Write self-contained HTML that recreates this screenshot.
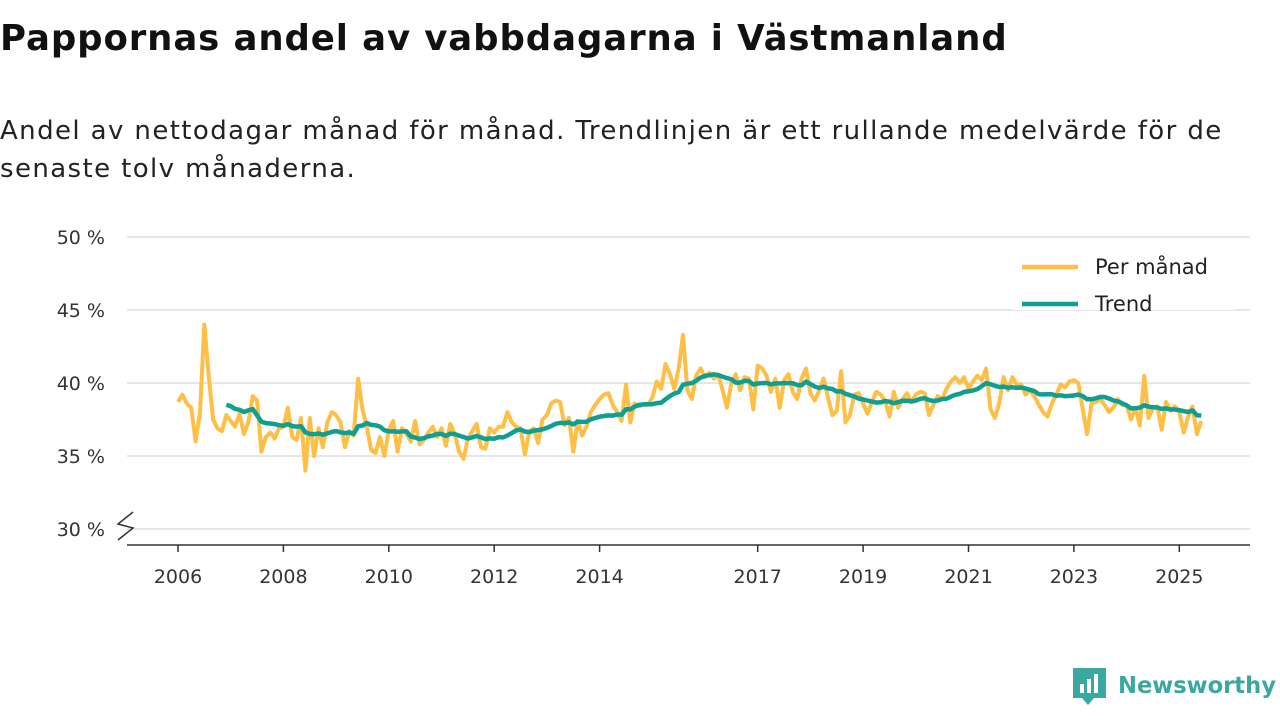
<!DOCTYPE html>
<html><head><meta charset="utf-8"><style>
body{margin:0;width:1280px;height:720px;background:#fff;font-family:"DejaVu Sans",sans-serif;overflow:hidden;position:relative}
h1{position:absolute;left:0;top:18px;margin:0;font-size:35.5px;font-weight:bold;color:#111;letter-spacing:0.9px;white-space:nowrap}
.sub{position:absolute;left:0;top:112px;font-size:26px;line-height:38px;color:#222;letter-spacing:1.4px;white-space:nowrap}
</style></head><body>
<h1>Pappornas andel av vabbdagarna i Västmanland</h1>
<div class="sub">Andel av nettodagar månad för månad. Trendlinjen är ett rullande medelvärde för de<br>senaste tolv månaderna.</div>
<svg id="c" width="1280" height="720" style="position:absolute;left:0;top:0"></svg>
<script>
const yTicks=[30,35,40,45,50];
const xTickYears=[2006,2008,2010,2012,2014,2017,2019,2021,2023,2025];
const monthly=[
38.7,39.2,38.6,38.3,36.0,38.0,44.0,40.5,37.5,36.9,36.7,37.8,
37.4,37.0,37.9,36.5,37.3,39.1,38.8,35.3,36.3,36.6,36.2,36.9,
37.0,38.3,36.3,36.1,37.6,34.0,37.6,35.0,36.9,35.6,37.3,38.0,
37.8,37.3,35.6,36.7,36.4,40.3,38.2,37.0,35.4,35.2,36.3,35.0,
36.8,37.4,35.3,36.9,36.5,36.0,37.4,35.8,36.1,36.6,37.0,36.3,
36.9,35.7,37.2,36.5,35.3,34.8,36.2,36.7,37.2,35.6,35.5,36.9,
36.6,37.0,37.0,38.0,37.3,37.0,36.9,35.1,36.7,36.9,35.9,37.5,
37.8,38.6,38.8,38.7,37.1,37.6,35.3,37.4,36.4,37.0,38.0,38.5,
38.9,39.2,39.3,38.5,38.0,37.4,39.9,37.3,38.6,38.4,38.5,38.5,
39.0,40.1,39.6,41.3,40.6,39.6,41.0,43.3,39.5,38.9,40.5,41.0,
40.4,40.7,40.3,40.6,39.5,38.3,40.0,40.6,39.5,40.4,40.3,38.2,
41.2,41.0,40.5,39.4,40.3,38.3,40.2,40.6,39.4,38.9,40.3,41.0,
39.3,38.8,39.5,40.3,39.0,37.8,38.1,40.8,37.3,37.8,39.2,39.3,
38.6,37.9,38.7,39.4,39.2,38.8,37.7,39.4,38.3,38.9,39.3,38.7,
39.2,39.4,39.3,37.8,38.5,39.1,38.9,39.6,40.1,40.4,40.0,40.4,
39.6,40.1,40.5,40.2,41.0,38.2,37.6,38.6,40.4,39.5,40.4,39.9,
39.9,39.2,39.5,39.1,38.5,38.0,37.7,38.6,39.2,39.9,39.7,40.1,
40.2,40.0,38.2,36.5,38.6,38.7,38.9,38.5,38.0,38.3,38.9,38.5,
38.5,37.5,38.3,37.1,40.5,37.6,38.3,38.4,36.8,38.7,38.1,38.4,
38.0,36.6,37.7,38.4,36.5,37.4];
const startYear=2006;
const X=t=>178+(t-2006)*52.7;
const Y=v=>456-(v-35)*14.6;
const svg=document.getElementById('c');
const NS='http://www.w3.org/2000/svg';
const FF='DejaVu Sans, sans-serif';
function mk(tag,attrs,parent){const e=document.createElementNS(NS,tag);for(const k in attrs)e.setAttribute(k,attrs[k]);(parent||svg).appendChild(e);return e;}
yTicks.forEach(v=>{
 const g=mk('line',{x1:127,x2:1250,y1:Y(v),y2:Y(v),stroke:'#ddd','stroke-width':1.5});
 
 
 const t=mk('text',{x:105,y:Y(v)+7,'text-anchor':'end','font-size':19,fill:'#333','font-family':FF});
 t.textContent=v+' %';
 
 
});
const ax=mk('line',{x1:127,x2:1250,y1:545,y2:545,stroke:'#333','stroke-width':1.5});


const br=mk('path',{d:'M118,540 L133,528 L118,524 L133,512',fill:'none',stroke:'#333','stroke-width':1.5});


xTickYears.forEach(yr=>{
 const tk=mk('line',{x1:X(yr),x2:X(yr),y1:545,y2:552,stroke:'#333','stroke-width':1.5});
 
 
 const t=mk('text',{x:X(yr),y:583,'text-anchor':'middle','font-size':19,fill:'#333','font-family':FF});
 t.textContent=yr;
 
 
});
const tm=i=>startYear+i/12;
const mp=monthly.map((v,i)=>X(tm(i)).toFixed(1)+','+Y(v).toFixed(1)).join(' ');
const l1=mk('polyline',{points:mp,fill:'none',stroke:'#ffbf47','stroke-width':4,'stroke-linejoin':'round'});


const trend=[];
for(let i=11;i<monthly.length;i++){let s=0;for(let j=i-11;j<=i;j++)s+=monthly[j];trend.push([i,s/12]);}
const tp=trend.map(([i,v])=>X(tm(i)).toFixed(1)+','+Y(v).toFixed(1)).join(' ');
const l2=mk('polyline',{points:tp,fill:'none',stroke:'#0f9e92','stroke-width':4.5,'stroke-linejoin':'round'});


const lg=mk('g',{});


mk('rect',{x:1012,y:245,width:222,height:65,fill:'#fff'},lg);
mk('line',{x1:1022,x2:1078,y1:267,y2:267,stroke:'#ffbf47','stroke-width':4.5},lg);
mk('line',{x1:1022,x2:1078,y1:304,y2:304,stroke:'#0f9e92','stroke-width':4.5},lg);
const a=mk('text',{x:1095,y:274,'font-size':21,fill:'#222','font-family':FF},lg);a.textContent='Per månad';


const b=mk('text',{x:1095,y:311,'font-size':21,fill:'#222','font-family':FF},lg);b.textContent='Trend';


const logo=mk('g',{});


mk('path',{d:'M1073,668 h33 v30 h-12 l-6,7 l-6,-7 h-9 z',fill:'#3aa8a0'},logo);
mk('rect',{x:1080,y:684,width:4,height:9,fill:'#fff'},logo);
mk('rect',{x:1087,y:679,width:4,height:14,fill:'#fff'},logo);
mk('rect',{x:1094,y:674,width:4,height:19,fill:'#fff'},logo);
const lt=mk('text',{x:1118,y:693,'font-size':23,'font-weight':'bold',fill:'#3aa8a0','font-family':FF,textLength:158,lengthAdjust:'spacingAndGlyphs'},logo);lt.textContent='Newsworthy';
</script>
</body></html>
